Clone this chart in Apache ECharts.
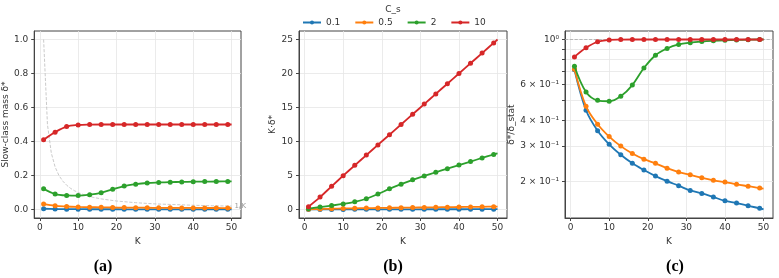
<!DOCTYPE html>
<html>
<head>
<meta charset="utf-8">
<script src="https://cdn.jsdelivr.net/npm/echarts@6/dist/echarts.min.js"></script>
<style>
html, body { margin: 0; padding: 0; background: #fff; }
#chart { width: 779px; height: 278px; }
</style>
</head>
<body>
<div id="chart"></div>
<script>
// K values where the markers sit (last point only closes the line)
var kValues = [1, 4, 7, 10, 13, 16, 19, 22, 25, 28, 31, 34, 37, 40, 43, 46, 49, 50];
var seriesNames = ['0.1', '0.5', '2', '10'];
var colors = ['#1f77b4', '#ff7f0e', '#2ca02c', '#d62728'];

// (a) slow-class mass δ*
var massBlue = [0.0043, 0.0027, 0.0021, 0.0018, 0.0016, 0.0015, 0.0014, 0.0013, 0.0012, 0.0011, 0.0011, 0.0011, 0.0010, 0.0010, 0.0009, 0.0009, 0.0009, 0.0009];
var massOrange = [0.0328, 0.0216, 0.0176, 0.0153, 0.0138, 0.0127, 0.0119, 0.0113, 0.0107, 0.0103, 0.0099, 0.0096, 0.0093, 0.0092, 0.0089, 0.0087, 0.0086, 0.0085];
var massGreen = [0.122, 0.091, 0.083, 0.082, 0.087, 0.0985, 0.119, 0.138, 0.149, 0.156, 0.159, 0.161, 0.1625, 0.1635, 0.164, 0.1647, 0.165, 0.165];
var massRed = [0.41, 0.455, 0.488, 0.497, 0.4995, 0.5, 0.5, 0.5, 0.5, 0.5, 0.5, 0.5, 0.5, 0.5, 0.5, 0.5, 0.5, 0.5];

// 1/K reference curve
var invK = [1, 2, 3, 4, 5, 6, 7, 8, 9, 10, 12, 14, 16, 18, 20, 25, 30, 35, 40, 45, 50];
var invKValues = [1, 0.5, 0.333, 0.25, 0.2, 0.167, 0.143, 0.125, 0.111, 0.1, 0.083, 0.071, 0.0625, 0.056, 0.05, 0.04, 0.033, 0.029, 0.025, 0.022, 0.02];

// (b) K·δ*
var kmBlue = [0.004, 0.011, 0.015, 0.018, 0.021, 0.024, 0.026, 0.028, 0.030, 0.032, 0.034, 0.036, 0.037, 0.039, 0.041, 0.042, 0.044, 0.044];
var kmOrange = [0.033, 0.086, 0.123, 0.153, 0.179, 0.203, 0.226, 0.249, 0.268, 0.288, 0.307, 0.326, 0.344, 0.368, 0.383, 0.400, 0.421, 0.425];
var kmGreen = [0.122, 0.364, 0.581, 0.82, 1.13, 1.58, 2.27, 3.04, 3.73, 4.37, 4.94, 5.48, 6.01, 6.54, 7.05, 7.58, 8.09, 8.25];
var kmRed = [0.41, 1.82, 3.41, 4.97, 6.49, 8.0, 9.5, 11, 12.5, 14, 15.5, 17, 18.5, 20, 21.5, 23, 24.5, 25];

// (c) δ*/δ_stat
var ratioBlue = [0.71, 0.449, 0.356, 0.305, 0.271, 0.246, 0.228, 0.213, 0.201, 0.191, 0.181, 0.175, 0.168, 0.161, 0.157, 0.152, 0.148, 0.146];
var ratioOrange = [0.714, 0.469, 0.383, 0.333, 0.299, 0.275, 0.258, 0.246, 0.233, 0.223, 0.216, 0.209, 0.203, 0.199, 0.194, 0.190, 0.186, 0.185];
var ratioGreen = [0.739, 0.552, 0.502, 0.497, 0.526, 0.597, 0.724, 0.837, 0.903, 0.945, 0.965, 0.977, 0.985, 0.991, 0.995, 0.998, 1.0, 1.0];
var ratioRed = [0.821, 0.91, 0.975, 0.995, 0.999, 1, 1, 1, 1, 1, 1, 1, 1, 1, 1, 1, 1, 1];

// tick labels
var xTicks = [0, 10, 20, 30, 40, 50];
var aTicks = [0, 0.2, 0.4, 0.6, 0.8, 1.0];
var bTicks = [0, 5, 10, 15, 20, 25];
var cTicks = [0.2, 0.3, 0.4, 0.5, 0.6, 0.7, 0.8, 0.9, 1.0];
var cLabels = [0.2, 0.3, 0.4, 0.6, 1.0];
var cLabelText = { 2: '2 × 10⁻¹', 3: '3 × 10⁻¹', 4: '4 × 10⁻¹', 6: '6 × 10⁻¹', 10: '10⁰' };

var FONT = 'DejaVu Sans';
var AXIS_COLOR = '#444';
var GRID_COLOR = '#e6e6e6';

function toPoints(xs, ys) {
	return xs.map(function(k, i) {
		return { value: [k, ys[i]], symbol: k === 50 ? 'none' : 'circle' };
	});
}

function makeXAxis(gridIndex) {
	return {
		type: 'value',
		gridIndex: gridIndex,
		min: -1.45,
		max: 52.45,
		name: 'K',
		nameLocation: 'middle',
		nameGap: 13,
		nameTextStyle: { color: '#333', fontSize: 9, fontFamily: FONT },
		axisLine: { show: true, onZero: false, lineStyle: { color: AXIS_COLOR, width: 1 } },
		axisTick: { show: true, length: 3, customValues: xTicks, lineStyle: { color: AXIS_COLOR } },
		axisLabel: { customValues: xTicks, fontSize: 9, color: '#333', margin: 5, fontFamily: FONT },
		splitLine: { show: true, lineStyle: { color: GRID_COLOR, width: 0.8 } }
	};
}

function makeYAxis(gridIndex, min, max, ticks, name, nameGap, fmt) {
	return {
		type: 'value',
		gridIndex: gridIndex,
		min: min,
		max: max,
		name: name,
		nameLocation: 'middle',
		nameGap: nameGap,
		nameTextStyle: { color: '#333', fontSize: 9, fontFamily: FONT },
		axisLine: { show: true, onZero: false, lineStyle: { color: AXIS_COLOR, width: 1 } },
		axisTick: { show: true, length: 3, customValues: ticks, lineStyle: { color: AXIS_COLOR } },
		axisLabel: { customValues: ticks, fontSize: 9, color: '#333', margin: 6, fontFamily: FONT, formatter: fmt },
		splitLine: { show: true, lineStyle: { color: GRID_COLOR, width: 0.8 } }
	};
}

function makeSeries(gridIndex, idx, values) {
	return {
		name: seriesNames[idx],
		type: 'line',
		xAxisIndex: gridIndex,
		yAxisIndex: gridIndex,
		data: toPoints(kValues, values),
		smooth: 0.35,
		showAllSymbol: true,
		symbol: 'circle',
		symbolSize: 5,
		lineStyle: { color: colors[idx], width: 1.8 },
		itemStyle: { color: colors[idx] },
		z: 3 + idx
	};
}

var gridBox = { show: true, borderColor: AXIS_COLOR, borderWidth: 1, backgroundColor: 'transparent' };

var series = [];
[massBlue, massOrange, massGreen, massRed].forEach(function(v, i) { series.push(makeSeries(0, i, v)); });
[kmBlue, kmOrange, kmGreen, kmRed].forEach(function(v, i) { series.push(makeSeries(1, i, v)); });
[ratioBlue, ratioOrange, ratioGreen, ratioRed].forEach(function(v, i) { series.push(makeSeries(2, i, v)); });

// 1/K dashed reference in (a)
series.push({
	name: '1/K',
	type: 'line',
	xAxisIndex: 0,
	yAxisIndex: 0,
	data: invK.map(function(k, i) { return [k, invKValues[i]]; }),
	symbol: 'none',
	lineStyle: { color: '#bdbdbd', width: 0.8, type: 'dashed' },
	endLabel: { show: true, formatter: '1/K', color: '#999', fontSize: 7, fontFamily: FONT, distance: 3 },
	z: 2
});

// dashed line at δ*/δ_stat = 1 in (c)
series[11].markLine = {
	silent: true,
	symbol: ['none', 'none'],
	label: { show: false },
	lineStyle: { color: '#aaa', width: 0.8, type: 'dashed' },
	data: [{ yAxis: 1 }]
};

function panelTitle(letter, x) {
	return {
		text: '{p|(}{b|' + letter + '}{p|)}',
		left: x,
		top: 254,
		textAlign: 'center',
		textStyle: {
			rich: {
				p: { fontFamily: 'Liberation Serif', fontSize: 16, color: '#000' },
				b: { fontFamily: 'Liberation Serif', fontSize: 16, fontWeight: 'bold', color: '#000' }
			}
		}
	};
}

var option = {
	animation: false,
	backgroundColor: '#fff',
	title: [
		{ text: 'C_s', left: 388, top: 0, textAlign: 'center', textStyle: { fontSize: 9, fontWeight: 'normal', color: '#333', fontFamily: FONT } },
		panelTitle('a', 98),
		panelTitle('b', 388),
		panelTitle('c', 670)
	],
	legend: {
		data: seriesNames,
		left: 297,
		top: 13,
		itemWidth: 18,
		itemHeight: 5,
		itemGap: 14,
		textStyle: { fontSize: 9, color: '#333', fontFamily: FONT }
	},
	grid: [
		Object.assign({ left: 34, top: 31, width: 207, height: 187 }, gridBox),
		Object.assign({ left: 299, top: 31, width: 208, height: 187 }, gridBox),
		Object.assign({ left: 565, top: 31, width: 208, height: 187 }, gridBox)
	],
	xAxis: [makeXAxis(0), makeXAxis(1), makeXAxis(2)],
	yAxis: [
		makeYAxis(0, -0.05, 1.05, aTicks, 'Slow-class mass δ*', 22, function(v) { return v.toFixed(1); }),
		makeYAxis(1, -1.25, 26.25, bTicks, 'K·δ*', 17, null),
		{
			type: 'log',
			logBase: 10,
			gridIndex: 2,
			min: 0.1325,
			max: 1.101,
			name: 'δ*/δ_stat',
			nameLocation: 'middle',
			nameGap: 33,
			nameTextStyle: { color: '#333', fontSize: 9, fontFamily: FONT },
			axisLine: { show: true, onZero: false, lineStyle: { color: AXIS_COLOR, width: 1 } },
			axisTick: { show: true, length: 3, customValues: cTicks, lineStyle: { color: AXIS_COLOR } },
			axisLabel: {
				customValues: cLabels, fontSize: 9, color: '#333', margin: 6, fontFamily: FONT,
				formatter: function(v) { return cLabelText[Math.round(v * 10)] || ''; }
			},
			splitLine: { show: true, lineStyle: { color: GRID_COLOR, width: 0.8 } }
		}
	],
	series: series
};

var myChart = echarts.init(document.getElementById('chart'));
myChart.setOption(option);
</script>
</body>
</html>
